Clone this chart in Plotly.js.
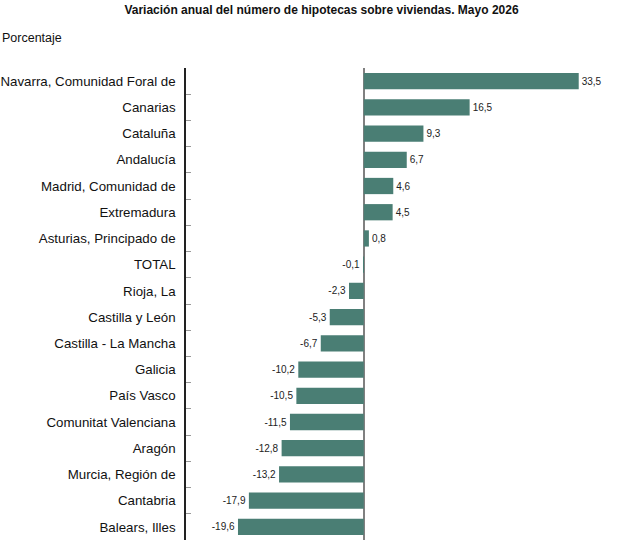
<!DOCTYPE html>
<html>
<head>
<meta charset="utf-8">
<script src="https://cdn.plot.ly/plotly-3.0.1.min.js"></script>
<style>
  html, body { margin: 0; padding: 0; background: #fff; }
  #chart { width: 643px; height: 550px; }
</style>
</head>
<body>
<div id="chart"></div>
<script>
const regions = [
  "Navarra, Comunidad Foral de",
  "Canarias",
  "Cataluña",
  "Andalucía",
  "Madrid, Comunidad de",
  "Extremadura",
  "Asturias, Principado de",
  "TOTAL",
  "Rioja, La",
  "Castilla y León",
  "Castilla - La Mancha",
  "Galicia",
  "País Vasco",
  "Comunitat Valenciana",
  "Aragón",
  "Murcia, Región de",
  "Cantabria",
  "Balears, Illes",
];
const variation = [33.5, 16.5, 9.3, 6.7, 4.6, 4.5, 0.8, -0.1, -2.3, -5.3, -6.7, -10.2, -10.5, -11.5, -12.8, -13.2, -17.9, -19.6];

const labels = variation.map((v) => v.toFixed(1).replace(".", ","));

const trace = {
  type: "bar",
  orientation: "h",
  y: regions,
  x: variation,
  text: labels,
  textposition: "outside",
  textfont: { family: "Arial, Liberation Sans, sans-serif", size: 10, color: "#222" },
  cliponaxis: false,
  marker: { color: "#4a7e74" },
  hoverinfo: "skip",
};

const layout = {
  width: 643,
  height: 550,
  margin: { l: 186, r: 20, t: 68, b: 10 },
  paper_bgcolor: "#fff",
  plot_bgcolor: "#fff",
  showlegend: false,
  bargap: 0.38,
  font: { family: "Arial, Liberation Sans, sans-serif", size: 13, color: "#111" },
  title: {
    text: "<b>Variación anual del número de hipotecas sobre viviendas. Mayo 2026</b>",
    font: { size: 12, color: "#111" },
    x: 0.5,
    xref: "container",
    xanchor: "center",
    y: 0.99,
    yref: "container",
    yanchor: "top",
  },
  annotations: [
    {
      text: "Porcentaje",
      xref: "paper",
      yref: "paper",
      x: -0.425,
      y: 1.064,
      xanchor: "left",
      yanchor: "middle",
      showarrow: false,
      font: { size: 12.5, color: "#111" },
    },
  ],
  xaxis: {
    range: [-27.7, 40.4],
    showticklabels: false,
    showgrid: false,
    showline: false,
    ticks: "",
    zeroline: true,
    zerolinecolor: "#808080",
    zerolinewidth: 2,
    fixedrange: true,
  },
  yaxis: {
    autorange: "reversed",
    showline: true,
    linecolor: "#222",
    linewidth: 1.5,
    mirror: false,
    ticks: "inside",
    tickson: "boundaries",
    ticklen: 5,
    tickwidth: 1,
    tickcolor: "#999",
    ticklabelstandoff: 6,
    showgrid: false,
    tickfont: { size: 13.3, color: "#111" },
    fixedrange: true,
  },
};

Plotly.newPlot("chart", [trace], layout, { displayModeBar: false });
</script>
</body>
</html>
